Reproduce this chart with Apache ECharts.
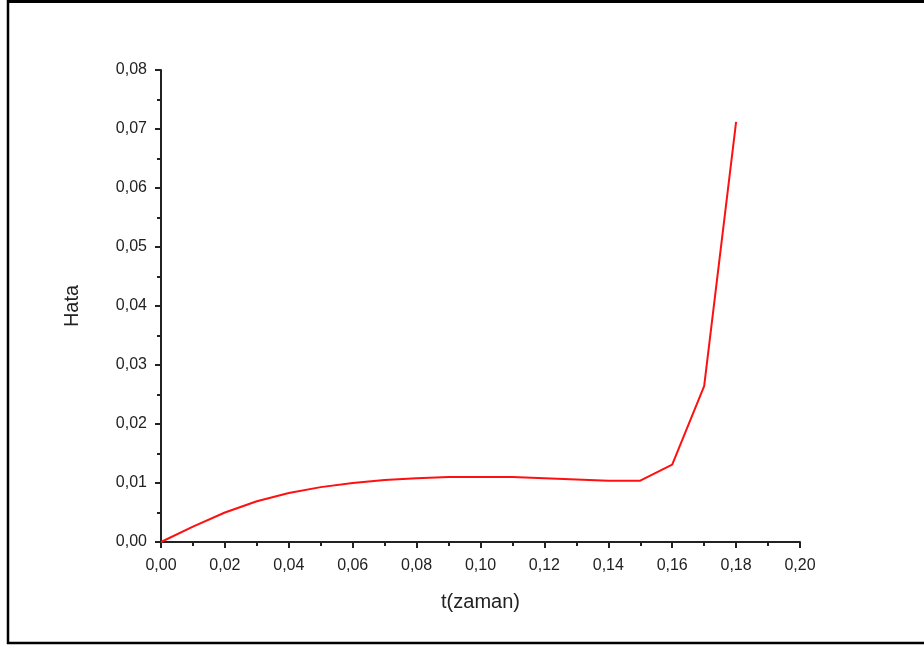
<!DOCTYPE html>
<html>
<head>
<meta charset="utf-8">
<script src="https://cdn.jsdelivr.net/npm/echarts@6/dist/echarts.min.js"></script>
<style>
html,body{margin:0;padding:0;background:#fff;}
#c{width:924px;height:646px;}
</style>
</head>
<body>
<div id="c"></div>
<script>
const tValues = [0.00,0.01,0.02,0.03,0.04,0.05,0.06,0.07,0.08,0.09,0.10,0.11,0.12,0.13,0.14,0.15,0.16,0.17,0.18];
const hataValues = [0.0000,0.0026,0.0050,0.0069,0.0083,0.0093,0.0100,0.0105,0.0108,0.0110,0.0110,0.0110,0.0108,0.0106,0.0104,0.0104,0.0131,0.0264,0.0712];
const xTitle = 't(zaman)';
const yTitle = 'Hata';

const fmt = v => v.toFixed(2).replace('.', ',');
const chart = echarts.init(document.getElementById('c'), null, {renderer:'canvas'});
const axisCol = '#222';
chart.setOption({
  animation:false,
  backgroundColor:'#fff',
  grid:{left:161,right:124,top:70,bottom:104,containLabel:false},
  graphic:[
    {type:'line',shape:{x1:8,y1:0,x2:8,y2:644},style:{stroke:'#000',lineWidth:2.5}},
    {type:'line',shape:{x1:7,y1:1.5,x2:924,y2:1.5},style:{stroke:'#000',lineWidth:3}},
    {type:'line',shape:{x1:7,y1:643,x2:924,y2:643},style:{stroke:'#000',lineWidth:2.5}}
  ],
  xAxis:{
    type:'value',min:0,max:0.2,interval:0.02,
    name:xTitle,nameLocation:'middle',nameGap:50,
    nameTextStyle:{fontFamily:'Liberation Sans',fontSize:20,color:'#222'},
    axisLine:{show:true,onZero:false,lineStyle:{color:axisCol,width:2}},
    axisTick:{show:true,inside:false,length:6,lineStyle:{color:axisCol,width:2}},
    minorTick:{show:true,splitNumber:2,length:4,lineStyle:{color:axisCol,width:2}},
    splitLine:{show:false},
    axisLabel:{formatter:fmt,margin:16,fontFamily:'Liberation Sans',fontSize:16,color:'#222'}
  },
  yAxis:{
    type:'value',min:0,max:0.08,interval:0.01,
    name:yTitle,nameLocation:'middle',nameGap:79,nameRotate:90,
    nameTextStyle:{fontFamily:'Liberation Sans',fontSize:20,color:'#222'},
    axisLine:{show:true,onZero:false,lineStyle:{color:axisCol,width:2}},
    axisTick:{show:true,inside:false,length:6,lineStyle:{color:axisCol,width:2}},
    minorTick:{show:true,splitNumber:2,length:4,lineStyle:{color:axisCol,width:2}},
    splitLine:{show:false},
    axisLabel:{formatter:fmt,margin:14,fontFamily:'Liberation Sans',fontSize:16,color:'#222'}
  },
  series:[{
    type:'line',
    data:tValues.map((t,i)=>[t,hataValues[i]]),
    showSymbol:false,symbol:'none',
    lineStyle:{color:'#ff1010',width:2},
    z:3
  }]
});
</script>
</body>
</html>
